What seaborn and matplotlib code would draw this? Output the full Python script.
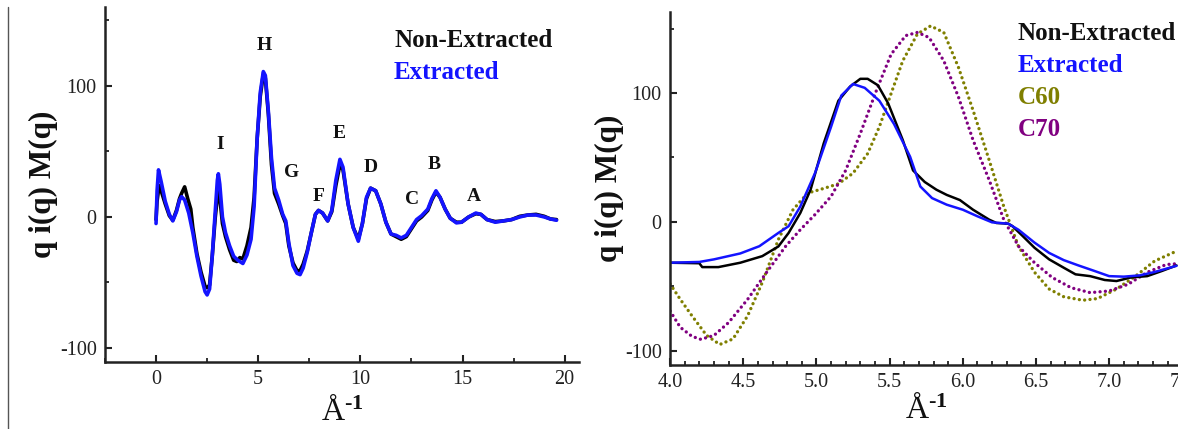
import numpy as np
import pandas as pd
import matplotlib
matplotlib.use("Agg")
import matplotlib.pyplot as plt
from matplotlib.lines import Line2D
from matplotlib.ticker import MultipleLocator, FormatStrFormatter
import seaborn as sns

# ---- full-range scattering curves (q in 1/Angstrom) ----
q_ext = [0.00, 0.05, 0.12, 0.25, 0.45, 0.65, 0.82, 1.00, 1.15, 1.25, 1.40, 1.60, 1.80,
         2.00, 2.20, 2.40, 2.50, 2.62, 2.75, 2.90, 3.00, 3.05, 3.12, 3.25, 3.40, 3.60,
         3.80, 4.00, 4.25, 4.45, 4.65, 4.80, 4.95, 5.10, 5.25, 5.35, 5.50, 5.65, 5.80,
         6.00, 6.20, 6.35, 6.50, 6.70, 6.90, 7.05, 7.20, 7.40, 7.60, 7.80, 7.95, 8.15,
         8.40, 8.60, 8.80, 9.00, 9.15, 9.40, 9.65, 9.90, 10.10, 10.30, 10.50, 10.75,
         11.00, 11.25, 11.50, 11.75, 12.00, 12.25, 12.50, 12.75, 13.00, 13.30, 13.50,
         13.70, 13.90, 14.15, 14.40, 14.70, 14.95, 15.30, 15.65, 15.90, 16.20, 16.60,
         17.00, 17.40, 17.80, 18.20, 18.60, 19.00, 19.30, 19.60]
m_ext = [-5, 20, 36, 27, 12, 2, -3, 4, 13, 15.5, 13, 3, -12,
         -30, -45, -57, -59.5, -55, -30, 5, 28, 33, 25, 0, -12, -22,
         -30, -33, -35.5, -29, -17, 8, 60, 95, 111, 108, 80, 45, 22,
         13, 2, -3, -20, -37, -43, -44, -39, -27, -12, 2, 5, 3,
         -3, 5, 28, 44, 38, 10, -8, -18.5, -5, 15, 22, 20,
         10, -4, -13, -14, -16, -14, -8, -2, 1, 6, 14,
         20, 15, 6, -1, -4.5, -4, 0, 3, 2, -2, -4,
         -3, -2, 0, 1.5, 1.5, 0, -1.5, -2.5]

q_non = [0.00, 0.05, 0.15, 0.25, 0.45, 0.65, 0.82, 1.00, 1.15, 1.25, 1.40, 1.55, 1.70,
         1.80, 2.00, 2.20, 2.40, 2.50, 2.62, 2.75, 2.90, 3.00, 3.05, 3.12, 3.25, 3.40,
         3.60, 3.80, 3.95, 4.10, 4.25, 4.45, 4.65, 4.80, 4.95, 5.10, 5.25, 5.35, 5.50,
         5.65, 5.80, 6.00, 6.20, 6.35, 6.50, 6.70, 6.90, 7.05, 7.20, 7.40, 7.60, 7.80,
         7.95, 8.15, 8.40, 8.60, 8.80, 9.00, 9.15, 9.40, 9.65, 9.90, 10.10, 10.30, 10.50,
         10.75, 11.00, 11.25, 11.50, 11.75, 12.00, 12.25, 12.50, 12.75, 13.00, 13.30,
         13.50, 13.70, 13.90, 14.15, 14.40, 14.70, 14.95, 15.30, 15.65, 15.90, 16.20,
         16.60, 17.00, 17.40, 17.80, 18.20, 18.60, 19.00, 19.30, 19.60]
m_non = [-2, 12, 24, 20, 10, 1, -2.5, 5, 14, 18, 23, 14, 6,
         -8, -28, -42, -53, -54, -52, -30, 0, 15, 20.5, 15, -5, -15,
         -25, -33, -34, -31, -32, -22, -8, 15, 60, 92, 109, 106, 78,
         40, 18, 10, 1, -5, -22, -35, -41, -41, -36, -26, -12, 2,
         5, 3, -3, 4, 24, 40, 36, 10, -8, -17, -5, 14, 22,
         20, 10, -4, -13, -15, -17, -15, -9, -3, 0, 5,
         13, 19, 15, 6, -1, -4, -4, 0, 2.5, 2, -2,
         -3.5, -3, -2, 0.5, 1.5, 2, 0.5, -1.5, -2]

peak_names = ["I", "H", "G", "F", "E", "D", "C", "B", "A"]
peak_q = [3.15, 5.3, 6.65, 7.95, 8.95, 10.5, 12.55, 13.6, 15.55]
peak_m = [55, 131, 34, 16, 64, 38, 13, 40, 16]

# ---- zoom on the main peak, with fullerene references ----
qz_non = [4.00, 4.20, 4.22, 4.33, 4.48, 4.63, 4.74, 4.81, 4.89, 4.96, 5.05, 5.15, 5.23,
          5.30, 5.35, 5.42, 5.49, 5.59, 5.66, 5.74, 5.82, 5.89, 5.98, 6.07, 6.18, 6.23,
          6.31, 6.34, 6.41, 6.49, 6.59, 6.69, 6.77, 6.87, 6.97, 7.05, 7.15, 7.26, 7.36, 7.46]
mz_non = [-31.6, -32, -35, -35, -31.6, -26.5, -19, -8.5, 7, 25, 61, 94, 105,
          111, 111, 106, 92, 63.5, 40, 31, 25, 21, 17, 9.5, 1.8, -0.8,
          -1.3, -3.3, -11, -20, -29, -35.5, -40.6, -42, -45, -45.8, -43, -42, -38, -33.7]

qz_ext = [4.00, 4.20, 4.30, 4.48, 4.61, 4.74, 4.81, 4.89, 4.99, 5.10, 5.17, 5.25, 5.33,
          5.43, 5.53, 5.64, 5.71, 5.79, 5.89, 6.00, 6.10, 6.20, 6.31, 6.38, 6.49, 6.59,
          6.69, 6.79, 6.90, 7.00, 7.10, 7.21, 7.31, 7.46]
mz_ext = [-31.6, -31, -29, -24.4, -18.8, -8.5, -3.3, 12, 37.8, 73.8, 98, 107, 104,
          94, 76, 50.6, 27.5, 18.5, 13.4, 9.5, 4.4, -0.3, -1.3, -6, -16, -24,
          -29.6, -33.7, -38, -42, -42.4, -41.4, -38.8, -34]

q_c60 = [4.00, 4.07, 4.15, 4.25, 4.34, 4.43, 4.53, 4.63, 4.74, 4.84, 4.94, 5.05, 5.15,
         5.25, 5.35, 5.43, 5.51, 5.59, 5.69, 5.78, 5.87, 5.97, 6.07, 6.18, 6.28, 6.38,
         6.49, 6.59, 6.69, 6.82, 6.92, 7.05, 7.18, 7.31, 7.46]
m_c60 = [-48, -60, -72.8, -88, -95, -90.7, -72.8, -47, -13.6, 9.5, 22.4, 26, 29.6,
         37.8, 53, 73.8, 99.5, 125, 145.8, 152, 147, 120, 86.6, 48, 12, -18.8,
         -39, -52, -58, -60.7, -59.4, -52, -42, -30.3, -22.6]

q_c70 = [4.00, 4.07, 4.15, 4.21, 4.30, 4.40, 4.53, 4.66, 4.79, 4.89, 4.99, 5.10, 5.20,
         5.30, 5.41, 5.51, 5.61, 5.69, 5.77, 5.87, 5.97, 6.07, 6.18, 6.28, 6.38, 6.49,
         6.61, 6.74, 6.87, 7.00, 7.13, 7.26, 7.39, 7.46]
m_c70 = [-69, -81.7, -88.7, -91, -88, -78, -60, -39, -18.8, -6, 5.7, 19.8, 40,
         68.6, 102, 130, 144.5, 147, 143, 125, 97, 63.5, 32.6, 1.8, -18.8, -31.6,
         -43, -51, -54.8, -53.5, -48.3, -39, -33, -32.4]

BLUE = "#1414ff"
OLIVE = "#7f7f00"
PURPLE = "#800080"

sns.set_theme(style="ticks")
plt.rcParams["font.family"] = ["Liberation Serif", "DejaVu Serif"]
plt.rcParams["axes.unicode_minus"] = False
plt.rcParams["mathtext.fontset"] = "custom"
plt.rcParams["mathtext.rm"] = "Liberation Serif:bold"
plt.rcParams["mathtext.default"] = "rm"

fig = plt.figure(figsize=(11.78, 4.29), dpi=100)
ax1 = fig.add_axes([0.0891, 0.1562, 0.4024, 0.8275])
ax2 = fig.add_axes([0.5688, 0.1492, 0.4349, 0.8228])


def style_axes(ax, xpad):
    for s in ("top", "right"):
        ax.spines[s].set_visible(False)
    for s in ("left", "bottom"):
        ax.spines[s].set_linewidth(1.8)
        ax.spines[s].set_color("#222222")
    ax.tick_params(which="major", direction="in", length=5, width=1.5,
                   labelsize=14.5, colors="#222222", pad=6)
    ax.tick_params(which="minor", direction="in", length=3, width=1.3, colors="#222222")
    ax.set_ylabel("q i(q) M(q)", fontsize=22.5, fontweight="bold", color="#111111")
    ax.set_xlabel("Å$^{\\text{-1}}$", fontsize=23, color="#111111", labelpad=xpad)


# left panel
df_non = pd.DataFrame({"q": q_non, "m": m_non})
df_ext = pd.DataFrame({"q": q_ext, "m": m_ext})
sns.lineplot(data=df_non, x="q", y="m", ax=ax1, color="black", lw=2.6, sort=False)
sns.lineplot(data=df_ext, x="q", y="m", ax=ax1, color=BLUE, lw=2.6, sort=False)
ax1.set_xlim(-2.5, 20.7)
ax1.set_ylim(-110.7, 160.3)
ax1.set_xticks([0, 5, 10, 15, 20])
ax1.xaxis.set_minor_locator(MultipleLocator(2.5))
ax1.set_yticks([-100, 0, 100])
ax1.yaxis.set_minor_locator(MultipleLocator(50))
style_axes(ax1, 5)
ax1.yaxis.set_label_coords(-0.1, 0.5)
for name, xq, ym in zip(peak_names, peak_q, peak_m):
    ax1.text(xq, ym, name, ha="center", va="center", fontsize=14, fontweight="bold",
             color="#111111")
ax1.text(0.61, 0.907, "Non-Extracted", transform=ax1.transAxes, fontsize=18,
         fontweight="bold", color="#111111", va="center")
ax1.text(0.61, 0.815, "Extracted", transform=ax1.transAxes, fontsize=18,
         fontweight="bold", color=BLUE, va="center")

# right panel
dotted = (0, (0.01, 1.6))
sns.lineplot(x=q_c60, y=m_c60, ax=ax2, color=OLIVE, lw=2.4, linestyle=dotted,
             dash_capstyle="round", sort=False)
sns.lineplot(x=q_c70, y=m_c70, ax=ax2, color=PURPLE, lw=2.4, linestyle=dotted,
             dash_capstyle="round", sort=False)
sns.lineplot(x=qz_non, y=mz_non, ax=ax2, color="black", lw=1.8, sort=False)
sns.lineplot(x=qz_ext, y=mz_ext, ax=ax2, color=BLUE, lw=1.8, sort=False)
ax2.set_xlim(4.0, 7.5)
ax2.set_ylim(-110.9, 162.8)
ax2.xaxis.set_major_locator(MultipleLocator(0.5))
ax2.xaxis.set_minor_locator(MultipleLocator(0.1))
ax2.set_yticks([-100, 0, 100])
ax2.yaxis.set_minor_locator(MultipleLocator(50))
ax2.xaxis.set_major_formatter(FormatStrFormatter("%.1f"))
style_axes(ax2, 1)
ax2.yaxis.set_label_coords(-0.09, 0.5)
for i, (lab, col) in enumerate([("Non-Extracted", "#111111"), ("Extracted", BLUE),
                                ("C60", OLIVE), ("C70", PURPLE)]):
    ax2.text(0.678, 0.94 - i * 0.0906, lab, transform=ax2.transAxes, fontsize=18,
             fontweight="bold", color=col, va="center")

# thin rule along the left edge of the figure
fig.add_artist(Line2D([0.0065, 0.0065], [0.0, 0.983], transform=fig.transFigure,
                      color="#555555", lw=1.0))

fig.savefig("out.png", dpi=100)
